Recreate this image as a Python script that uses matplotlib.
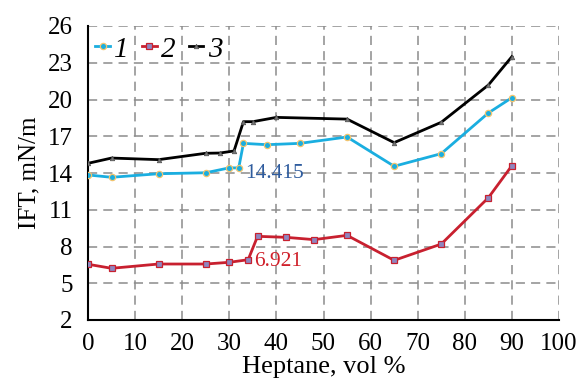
import matplotlib
matplotlib.use("Agg")
import matplotlib.pyplot as plt

# IFT vs heptane content
x1 = [0, 5, 15, 25, 30, 32, 33, 38, 45, 55, 65, 75, 85, 90]
y1 = [13.84, 13.65, 13.94, 14.02, 14.42, 14.415, 16.42, 16.31, 16.42, 16.94, 14.55, 15.58, 18.9, 20.15]

x2 = [0, 5, 15, 25, 30, 34, 36, 42, 48, 55, 65, 75, 85, 90]
y2 = [6.55, 6.22, 6.57, 6.57, 6.71, 6.921, 8.83, 8.75, 8.56, 8.91, 6.87, 8.2, 11.98, 14.6]

x3 = [0, 5, 15, 25, 28, 31, 33, 35, 40, 55, 65, 75, 85, 90]
y3 = [14.79, 15.22, 15.09, 15.61, 15.63, 15.8, 18.19, 18.19, 18.54, 18.4, 16.48, 18.14, 21.18, 23.5]

labels = ["1", "2", "3"]
x_ticks = list(range(0, 101, 10))
y_ticks = list(range(2, 27, 3))

plt.rcParams["font.family"] = ["Liberation Serif", "DejaVu Serif"]

fig = plt.figure(figsize=(5.85, 3.85), dpi=100)
ax = fig.add_axes([88 / 585, 1 - 320 / 385, 471 / 585, 294 / 385])

ax.plot(x1, y1, color="#1aaee0", lw=2, marker="o", ms=4.5,
        mfc="#1aaee0", mec="#f2c46e", mew=0.9, label=labels[0], zorder=3)
ax.plot(x2, y2, color="#c8202f", lw=2, marker="s", ms=4.5,
        mfc="#8e86c0", mec="#c8202f", mew=0.9, label=labels[1], zorder=3)
ax.plot(x3, y3, color="black", lw=2, marker="^", ms=3.2,
        mfc="#777777", mec="#555555", mew=0.6, label=labels[2], zorder=3)

ax.text(33.3, 14.0, "14.415", color="#2f5c9e", fontsize=15.5, va="center", ha="left")
ax.text(35.3, 6.75, "6.921", color="#d0202a", fontsize=15.5, va="center", ha="left")

ax.set_xlim(0, 100)
ax.set_ylim(2, 26)
ax.set_xticks(x_ticks)
ax.set_yticks(y_ticks)
ax.tick_params(length=0, labelsize=18)
ax.tick_params(axis="x", pad=9)
ax.tick_params(axis="y", pad=11)
ax.grid(True, ls=(0, (6, 4)), color="#8c8c8c", lw=1.1)
for s in ("top", "right"):
    ax.spines[s].set_visible(False)
for s in ("left", "bottom"):
    ax.spines[s].set_linewidth(1.5)

ax.set_xlabel("Heptane, vol %", fontsize=19, labelpad=1)
ax.set_ylabel("IFT, mN/m", fontsize=18, labelpad=5)

leg = ax.legend(loc="upper left", ncol=3, frameon=False, fontsize=21,
                handlelength=0.5, handletextpad=0.15, columnspacing=0.45,
                borderaxespad=0.0, borderpad=0.25, numpoints=1,
                bbox_to_anchor=(0.0, 0.99))
for t in leg.get_texts():
    t.set_fontstyle("italic")

fig.savefig("out.png", dpi=100)
